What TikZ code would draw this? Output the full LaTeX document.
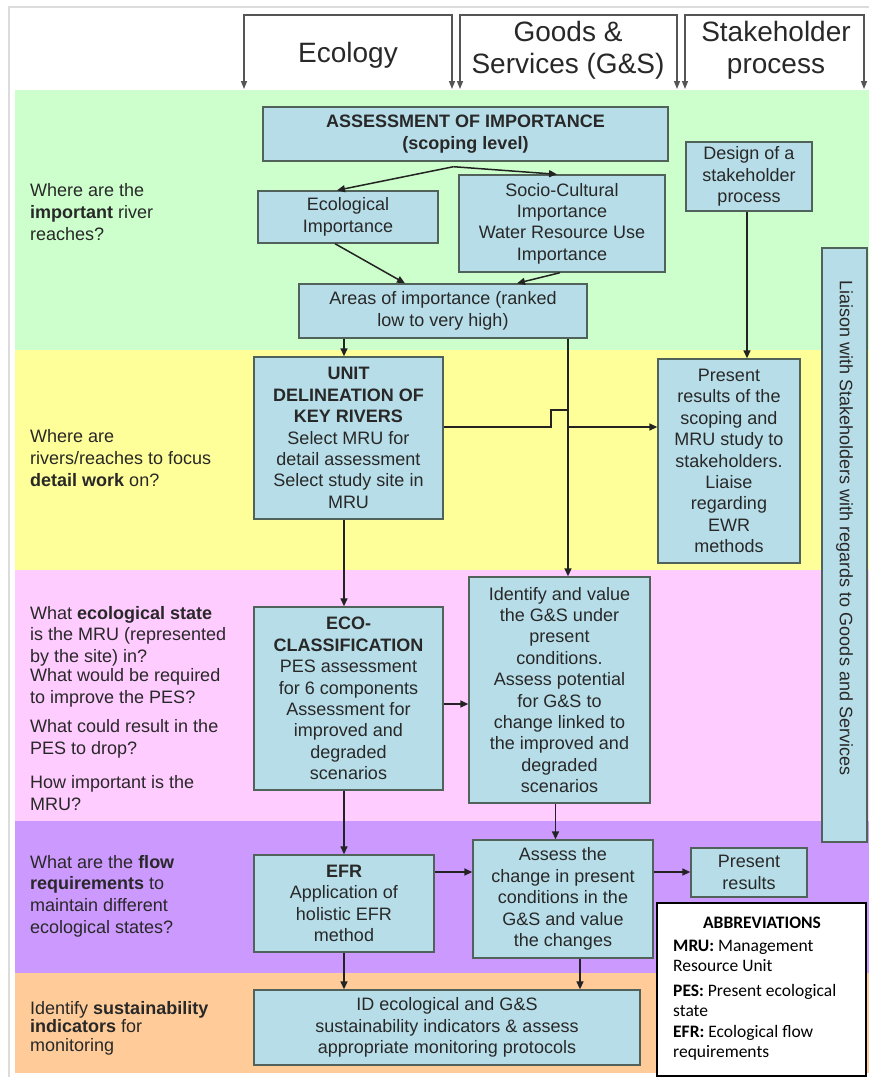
\documentclass[tikz,border=0pt]{standalone}
\usepackage{fontspec}
\setmainfont{Liberation Sans}
\newfontfamily\calibrifont{Carlito}
\usetikzlibrary{arrows.meta,calc}

\definecolor{bandgreen}{RGB}{204,255,204}
\definecolor{bandyellow}{RGB}{255,255,153}
\definecolor{bandpink}{RGB}{255,204,255}
\definecolor{bandpurple}{RGB}{204,153,255}
\definecolor{bandorange}{RGB}{255,204,153}
\definecolor{boxfill}{RGB}{183,222,232}
\definecolor{boxline}{RGB}{80,98,90}
\definecolor{textgray}{RGB}{40,40,40}
\definecolor{lineclr}{RGB}{35,35,35}
\definecolor{framegray}{RGB}{220,220,220}
\definecolor{bracketgray}{RGB}{85,85,85}

\begin{document}
\begin{tikzpicture}[x=1pt,y=-1pt,
  box/.style={draw=boxline, fill=boxfill, line width=1.4pt, inner sep=0pt,
    align=center, text=textgray, font=\fontsize{18}{21.4}\selectfont},
  question/.style={anchor=west, align=left, inner sep=0pt, text=textgray,
    font=\fontsize{18}{21.6}\selectfont},
  header/.style={align=center, inner sep=0pt, text=textgray,
    font=\fontsize{28}{32}\selectfont},
  abbr/.style={anchor=west, align=left, inner sep=0pt, text=black,
    font=\calibrifont\fontsize{17.5}{20}\selectfont},
  flow/.style={draw=lineclr, line width=1.5pt, -{Triangle[length=8pt,width=7pt]}},
  bracket/.style={draw=bracketgray, line width=1.4pt,
    {Triangle[length=8pt,width=6pt]}-{Triangle[length=8pt,width=6pt]}}
]
\useasboundingbox (0,0) rectangle (869,1077);

% outer frame
\draw[framegray, line width=1.5pt] (9,7) rectangle (890,1095);

% row bands
\fill[bandgreen]  (15,90)  rectangle (869,350);
\fill[bandyellow] (15,350) rectangle (869,570);
\fill[bandpink]   (15,570) rectangle (869,821);
\fill[bandpurple] (15,821) rectangle (869,973);
\fill[bandorange] (15,973) rectangle (869,1073);

% column headers with their brackets
\coordinate (ecoL) at (244,89);  \coordinate (ecoR) at (452,89);
\coordinate (gsL)  at (460,89);  \coordinate (gsR)  at (677,89);
\coordinate (shL)  at (685,89);  \coordinate (shR)  at (864,89);
\draw[bracket] (ecoL) -- (244,15) -- (452,15) -- (ecoR);
\draw[bracket] (gsL) -- (460,15) -- (677,15) -- (gsR);
\draw[bracket] (shL) -- (685,15) -- (864,15) -- (shR);
\node[header] (hdEco) at (348,55) {Ecology};
\node[header] (hdGS)  at (568,50) {Goods \&\\Services (G\&S)};
\node[header] (hdSH)  at (776,50) {Stakeholder\\process};

% questions on the left
\node[question] (q1) at (30,212) {Where are the\\\textbf{important} river\\reaches?};
\node[question] (q2) at (30,458) {Where are\\rivers/reaches to focus\\\textbf{detail work} on?};
\node[question] (q3a) at (30,636) {What \textbf{ecological state}\\is the MRU (represented\\by the site) in?};
\node[question] (q3b) at (30,688) {What would be required\\to improve the PES?};
\node[question] (q3c) at (30,739) {What could result in the\\PES to drop?};
\node[question] (q3d) at (30,793) {How important is the\\MRU?};
\node[question] (q4) at (30,896) {What are the \textbf{flow}\\\textbf{requirements} to\\maintain different\\ecological states?};
\node[question, font=\fontsize{18}{18.6}\selectfont] (q5) at (30,1028) {Identify \textbf{sustainability}\\\textbf{indicators} for\\monitoring};

% process boxes
\node[box, minimum width=405pt, minimum height=54pt] (assess) at (465.5,134)
  {\textbf{ASSESSMENT OF IMPORTANCE}\\\textbf{(scoping level)}};
\node[box, minimum width=180pt, minimum height=52pt] (ecol) at (348,217)
  {Ecological\\Importance};
\node[box, minimum width=206pt, minimum height=97pt] (socio) at (562,223.5)
  {Socio-Cultural\\Importance\\Water Resource Use\\Importance};
\node[box, minimum width=126pt, minimum height=69pt] (design) at (749,176.5)
  {Design of a\\stakeholder\\process};
\node[box, minimum width=288pt, minimum height=54pt] (areas) at (443,311)
  {Areas of importance (ranked\\low to very high)};
\node[box, minimum width=189pt, minimum height=162pt] (unit) at (348.5,438)
  {\textbf{UNIT}\\\textbf{DELINEATION OF}\\\textbf{KEY RIVERS}\\Select MRU for\\detail assessment\\Select study site in\\MRU};
\node[box, minimum width=142pt, minimum height=204pt] (present1) at (729,461)
  {Present\\results of the\\scoping and\\MRU study to\\stakeholders.\\Liaise\\regarding\\EWR\\methods};
\node[box, minimum width=45pt, minimum height=594pt] (liaison) at (844.5,545) {};
\node[text=textgray, rotate=-90, inner sep=0pt, font=\fontsize{18}{21.4}\selectfont]
  (liaisontext) at (844.5,528) {Liaison with Stakeholders with regards to Goods and Services};
\node[box, minimum width=189pt, minimum height=183pt] (eco) at (348.5,698.5)
  {\textbf{ECO-}\\\textbf{CLASSIFICATION}\\PES assessment\\for 6 components\\Assessment for\\improved and\\degraded\\scenarios};
\node[box, minimum width=181pt, minimum height=226pt] (identify) at (559.5,690)
  {Identify and value\\the G\&S under\\present\\conditions.\\Assess potential\\for G\&S to\\change linked to\\the improved and\\degraded\\scenarios};
\node[box, minimum width=180pt, minimum height=97pt] (efr) at (344,903.5)
  {\textbf{EFR}\\Application of\\holistic EFR\\method};
\node[box, minimum width=180pt, minimum height=118pt] (assess2) at (563,899)
  {Assess the\\change in present\\conditions in the\\G\&S and value\\the changes};
\node[box, minimum width=116pt, minimum height=49pt] (presres) at (749,872.5)
  {Present\\results};
\node[box, minimum width=386pt, minimum height=75pt] (idbox) at (447,1027.5)
  {ID ecological and G\&S\\sustainability indicators \& assess\\appropriate monitoring protocols};

% abbreviations panel
\node[draw=black, fill=white, line width=1.4pt, minimum width=209pt, minimum height=173pt, inner sep=0pt]
  (abbrev) at (761.5,989.5) {};
\node[abbr, anchor=center] (abbtitle) at (762,923) {\textbf{ABBREVIATIONS}};
\node[abbr] (abbmru) at (673,956) {\textbf{MRU:} Management\\Resource Unit};
\node[abbr] (abbpes) at (673,1000.5) {\textbf{PES:} Present ecological\\state};
\node[abbr] (abbefr) at (673,1043) {\textbf{EFR:} Ecological flow\\requirements};

% reference lines for the connectors
\coordinate (split)  at ([xshift=-12pt,yshift=-5pt]assess.south);
\coordinate (spine)  at (344,0);
\coordinate (gsline) at (568,0);
\coordinate (idline) at (580,0);
\coordinate (hopy)   at (0,427);
\coordinate (hopL)   at (551,410);
\coordinate (hopR)   at (568,410);
\coordinate (ecoy)   at (0,704);
\coordinate (efry)   at (0,872);

% connectors
\draw[flow] (split) -- ([xshift=-11pt]ecol.north);
\draw[flow] (split) -- ([xshift=-5pt]socio.north);
\draw[flow] ([xshift=-13pt]ecol.south) -- ([xshift=-38pt]areas.north);
\draw[flow] ([xshift=-2pt]socio.south) -- ([xshift=74pt]areas.north);
\draw[flow] (areas.south -| spine) -- (unit.north -| spine);
\draw[flow] (areas.south -| gsline) -- (identify.north -| gsline);
\draw[flow] ([xshift=-2pt]design.south) -- ([xshift=-2pt]design.south |- present1.north);
\draw[flow] (unit.east |- hopy) -- (hopL |- hopy) -- (hopL) -- (hopR) -- (hopR |- hopy) -- (present1.west |- hopy);
\draw[flow] (unit.south -| spine) -- (eco.north -| spine);
\draw[flow] (eco.east |- ecoy) -- (identify.west |- ecoy);
\draw[flow] (eco.south -| spine) -- (efr.north -| spine);
\draw[flow] ([xshift=-4pt]identify.south) -- ([xshift=-4pt]identify.south |- assess2.north);
\draw[flow] (efr.east |- efry) -- (assess2.west |- efry);
\draw[flow] (assess2.east |- efry) -- (presres.west |- efry);
\draw[flow] (efr.south -| spine) -- (idbox.north -| spine);
\draw[flow] (assess2.south -| idline) -- (idbox.north -| idline);
\end{tikzpicture}
\end{document}
